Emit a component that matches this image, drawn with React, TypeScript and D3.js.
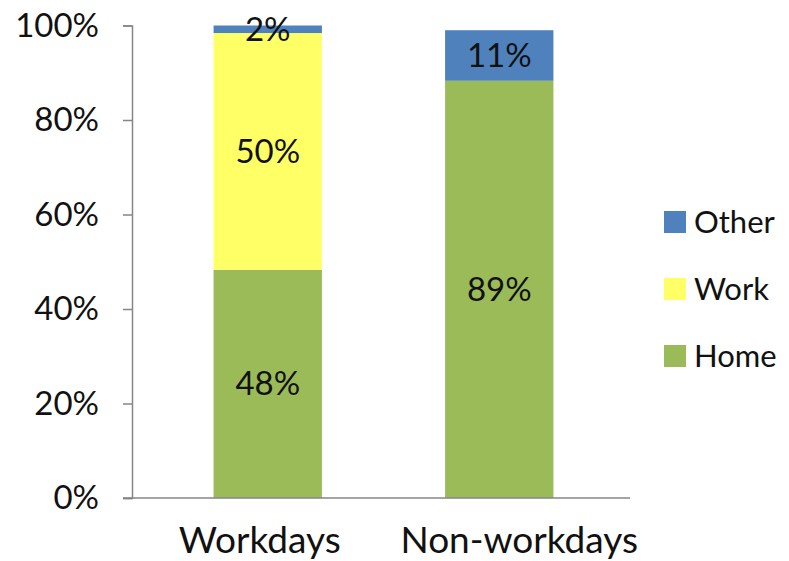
import React, { useEffect, useRef } from 'react';
import * as d3 from 'd3';

// categories and series (percent)
const categories = ['Workdays', 'Non-workdays'];
const homeValues = [48.3, 88.3];
const workValues = [50.1, 0];
const otherValues = [1.6, 10.7];
const homeLabels = ['48%', '89%'];
const workLabels = ['50%', ''];
const otherLabels = ['2%', '11%'];
const yTicks = [0, 20, 40, 60, 80, 100];
const legendNames = ['Other', 'Work', 'Home'];

const colors: Record<string, string> = {
  Home: '#9BBB59',
  Work: '#FFFF66',
  Other: '#4F81BD',
};

const App = () => {
  const ref = useRef<SVGSVGElement>(null);

  useEffect(() => {
    const width = 789;
    const height = 561;
    const font = 'Lato, sans-serif';

    const svg = d3.select(ref.current);
    svg.selectAll('*').remove();

    // scales
    const x = d3
      .scaleBand<string>()
      .domain(categories)
      .range([152, 615])
      .paddingInner(0.532)
      .paddingOuter(0.266);
    const y = d3.scaleLinear().domain([0, 100]).range([498, 25.5]);

    // stack the series bottom-up
    const rows = categories.map((c, i) => ({
      category: c,
      Home: homeValues[i],
      Work: workValues[i],
      Other: otherValues[i],
    }));
    const labels: Record<string, string[]> = {
      Home: homeLabels,
      Work: workLabels,
      Other: otherLabels,
    };
    const stack = d3.stack<any>().keys(['Home', 'Work', 'Other'])(rows);

    // bars
    stack.forEach((layer) => {
      const g = svg.append('g');
      g.selectAll('rect')
        .data(layer)
        .enter()
        .append('rect')
        .attr('x', (d: any) => x(d.data.category) as number)
        .attr('width', x.bandwidth())
        .attr('y', (d: any) => y(d[1]))
        .attr('height', (d: any) => y(d[0]) - y(d[1]))
        .attr('fill', colors[layer.key]);
    });

    // data labels
    stack.forEach((layer) => {
      svg
        .append('g')
        .selectAll('text')
        .data(layer)
        .enter()
        .append('text')
        .attr('x', (d: any) => (x(d.data.category) as number) + x.bandwidth() / 2)
        .attr('y', (d: any) => (y(d[0]) + y(d[1])) / 2)
        .attr('dy', '0.35em')
        .attr('text-anchor', 'middle')
        .attr('font-family', font)
        .attr('font-size', 33)
        .attr('fill', '#111')
        .text((d: any, i: number) => labels[layer.key][i]);
    });

    // y axis
    const yAxis = svg
      .append('g')
      .attr('transform', 'translate(132,0)')
      .call(
        d3
          .axisLeft(y)
          .tickValues(yTicks)
          .tickSize(9)
          .tickPadding(24)
          .tickFormat((d) => `${d}%`)
      );
    yAxis.select('.domain').attr('stroke', '#868686').attr('stroke-width', 1.5);
    yAxis.selectAll('.tick line').attr('stroke', '#868686').attr('stroke-width', 1.5);
    yAxis
      .selectAll('.tick text')
      .attr('font-family', font)
      .attr('font-size', 33)
      .attr('fill', '#111');

    // x axis baseline
    svg
      .append('line')
      .attr('x1', 123)
      .attr('x2', 630)
      .attr('y1', y(0))
      .attr('y2', y(0))
      .attr('stroke', '#868686')
      .attr('stroke-width', 1.5);

    // category labels (Excel spreads them a little wider than the bars)
    svg
      .append('g')
      .selectAll('text')
      .data(categories)
      .enter()
      .append('text')
      .attr('x', (d) => (x(d) as number) + x.bandwidth() / 2)
      .attr('dx', (d, i) => (i === 0 ? -8 : 20))
      .attr('y', 553)
      .attr('text-anchor', 'middle')
      .attr('font-family', font)
      .attr('font-size', 37)
      .attr('fill', '#111')
      .text((d) => d);

    // legend
    const legend = svg
      .append('g')
      .selectAll('g')
      .data(legendNames)
      .enter()
      .append('g')
      .attr('transform', (d, i) => `translate(664,${222 + i * 67})`);
    legend
      .append('rect')
      .attr('x', 0)
      .attr('y', -11)
      .attr('width', 22)
      .attr('height', 22)
      .attr('fill', (d) => colors[d]);
    legend
      .append('text')
      .attr('x', 30)
      .attr('y', 0)
      .attr('dy', '0.35em')
      .attr('font-family', font)
      .attr('font-size', 31)
      .attr('fill', '#111')
      .text((d) => d);

    svg.attr('width', width).attr('height', height);
  }, []);

  return (
    <svg
      ref={ref}
      width={789}
      height={561}
      style={{ position: 'absolute', left: 0, top: 0, background: '#fff' }}
    />
  );
};

export default App;
